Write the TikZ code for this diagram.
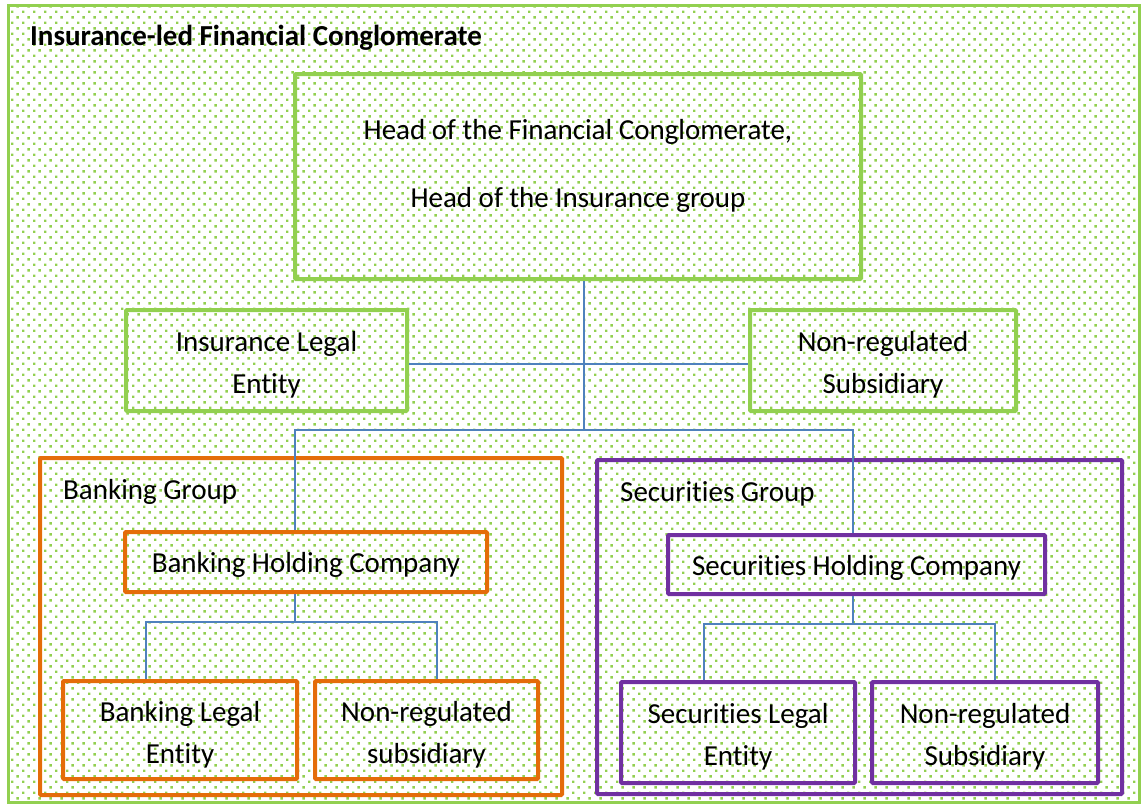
\documentclass[tikz,border=0pt]{standalone}
\usepackage{fontspec}
\setmainfont{Carlito}[Ligatures=NoCommon]
\usetikzlibrary{patterns}

\definecolor{fcgreen}{HTML}{92D050}
\definecolor{fcorange}{HTML}{E46C0A}
\definecolor{fcpurple}{HTML}{7030A0}
\definecolor{fcblue}{HTML}{4F81BD}

% staggered dots of the background
\pgfdeclarepatternformonly{greendots}{\pgfqpoint{0pt}{0pt}}{\pgfqpoint{11.4pt}{11.4pt}}{\pgfqpoint{11.4pt}{11.4pt}}{%
  \pgfpathrectangle{\pgfqpoint{0pt}{0pt}}{\pgfqpoint{2.6pt}{2.6pt}}%
  \pgfpathrectangle{\pgfqpoint{5.7pt}{5.7pt}}{\pgfqpoint{2.6pt}{2.6pt}}%
  \pgfusepath{fill}}

\begin{document}
\begin{tikzpicture}[x=1pt, y=-1pt,
  txt/.style={font=\fontsize{29}{42}\selectfont, align=center, inner sep=0pt},
  box/.style={txt, draw, line width=4pt, rounded corners=1pt,
    execute at begin node={\rule{0pt}{26pt}}},
  gbox/.style={box, draw=fcgreen},
  obox/.style={box, draw=fcorange},
  pbox/.style={box, draw=fcpurple},
  link/.style={draw=fcblue, line width=1.5pt}]

  \newcommand\lift{\rule{0pt}{29pt}}

  \useasboundingbox (0,0) rectangle (1142,804);

  \node[draw=fcgreen, line width=3pt, pattern=greendots, pattern color=fcgreen,
        minimum width=1131pt, minimum height=797pt, inner sep=0pt] (conglom) at (573.5,403.5) {};
  \node[txt, anchor=base west, font=\fontsize{29}{32}\selectfont\bfseries] (title) at (30,45)
    {Insurance-led Financial Conglomerate};

  % insurance part
  \node[gbox, minimum width=566pt, minimum height=205pt] (head) at (578,176.5) {};
  \node[txt] (headtxt) at (578,166)
    {Head of the Financial Conglomerate,\\[26pt]Head of the Insurance group};
  \node[gbox, minimum width=281pt, minimum height=101pt] (ins) at (266.5,360.5)
    {\lift Insurance Legal\\Entity};
  \node[gbox, minimum width=266pt, minimum height=101pt] (nrtop) at (883,360.5)
    {\lift Non-regulated\\Subsidiary};

  % banking group
  \node[obox, minimum width=522pt, minimum height=337pt] (bankgrp) at (301,626.5) {};
  \node[txt, anchor=base west] (bankname) at (63,499) {Banking Group};
  \node[obox, minimum width=362pt, minimum height=60pt] (bhc) at (306,562)
    {Banking Holding Company};
  \node[obox, minimum width=234pt, minimum height=98pt] (ble) at (180,730)
    {\lift Banking Legal\\Entity};
  \node[obox, minimum width=223pt, minimum height=98pt] (bnr) at (426.5,730)
    {\lift Non-regulated\\subsidiary};

  % securities group
  \node[pbox, minimum width=525pt, minimum height=334pt] (secgrp) at (859.5,627) {};
  \node[txt, anchor=base west] (secname) at (620,501) {Securities Group};
  \node[pbox, minimum width=377pt, minimum height=59pt] (shc) at (856.5,564.5)
    {Securities Holding Company};
  \node[pbox, minimum width=234pt, minimum height=101pt] (sle) at (738,732.5)
    {\lift Securities Legal\\Entity};
  \node[pbox, minimum width=226pt, minimum height=101pt] (snr) at (985,732.5)
    {\lift Non-regulated\\Subsidiary};

  % connectors
  \coordinate (topjoin) at (584,430);
  \coordinate (bdrop) at (295,430);
  \coordinate (sdrop) at (853,430);
  \draw[link] (head.south -| topjoin) -- (topjoin);
  \draw[link] ([yshift=-3.5pt]ins.east) -- ([yshift=-3.5pt]nrtop.west);
  \draw[link] (bdrop |- bhc.north) -- (bdrop) -- (sdrop) -- (sdrop |- shc.north);

  \coordinate (bjoin) at (295,622);
  \coordinate (bleft) at (146,622);
  \coordinate (bright) at (437,622);
  \draw[link] (bjoin |- bhc.south) -- (bjoin);
  \draw[link] (bleft |- ble.north) -- (bleft) -- (bright) -- (bright |- bnr.north);

  \coordinate (sjoin) at (853,624);
  \coordinate (sleft) at (704,624);
  \coordinate (sright) at (995,624);
  \draw[link] (sjoin |- shc.south) -- (sjoin);
  \draw[link] (sleft |- sle.north) -- (sleft) -- (sright) -- (sright |- snr.north);

\end{tikzpicture}
\end{document}
